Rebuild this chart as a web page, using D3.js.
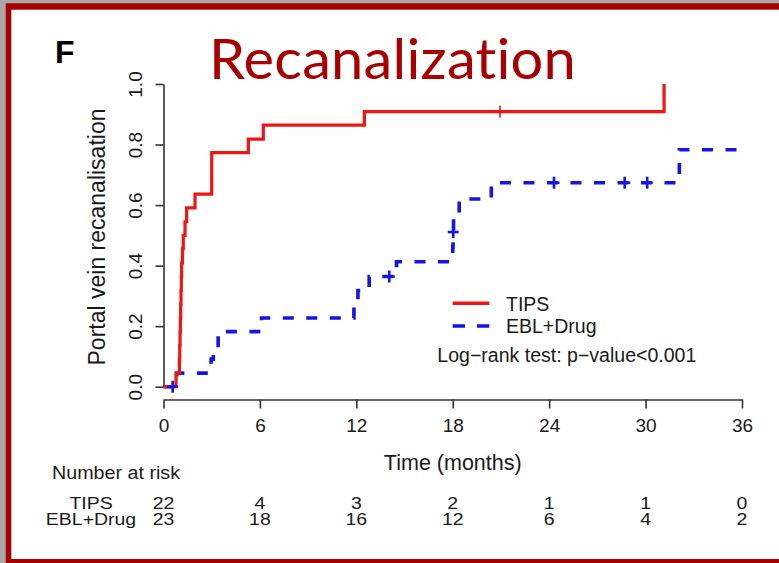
<!DOCTYPE html>
<html>
<head>
<meta charset="utf-8">
<script src="https://cdn.jsdelivr.net/npm/d3@7"></script>
<style>
  html, body { margin: 0; padding: 0; background: #a9a9a9; }
  svg { display: block; }
  text { font-family: "Liberation Sans", Arial, sans-serif; fill: #1a1a1a; font-variant-ligatures: none; }
</style>
</head>
<body>
<svg id="chart" width="779" height="563"></svg>
<script>
// Kaplan-Meier step points: time (months) and cumulative recanalisation
const tipsTimes  = [0, 0.78, 0.99, 1.01, 1.03, 1.05, 1.07, 1.09, 1.11, 1.13, 1.18, 1.23, 1.34, 1.44, 1.96, 3.00, 5.28, 6.21, 12.50, 31.15];
const tipsValues = [0, 0.045, 0.091, 0.136, 0.182, 0.227, 0.273, 0.318, 0.364, 0.409, 0.455, 0.500, 0.545, 0.591, 0.636, 0.773, 0.818, 0.864, 0.909, 1.000];
const tipsCensorTimes  = [20.94];
const tipsCensorValues = [0.909];

const eblTimes  = [0, 0.82, 2.96, 3.10, 3.40, 6.10, 11.85, 12.10, 12.80, 14.50, 18.00, 18.02, 18.05, 18.40, 20.40, 32.10, 36.0];
const eblValues = [0, 0.045, 0.091, 0.136, 0.182, 0.227, 0.273, 0.318, 0.364, 0.413, 0.462, 0.511, 0.565, 0.620, 0.674, 0.783, 0.783];
const eblCensorTimes  = [0.57, 14.05, 18.03, 24.3, 28.7, 30.1];
const eblCensorValues = [0, 0.364, 0.511, 0.674, 0.674, 0.674];

const xTicks = [0, 6, 12, 18, 24, 30, 36];
const yTicks = [0, 0.2, 0.4, 0.6, 0.8, 1.0];
const riskGroups = ["TIPS", "EBL+Drug"];
const riskTips = [22, 4, 3, 2, 1, 1, 0];
const riskEbl  = [23, 18, 16, 12, 6, 4, 2];

const svg = d3.select("#chart");
const W = 779, H = 563;

// slide frame: grey page, dark-red border, white panel
svg.append("rect").attr("x", 0).attr("y", 0).attr("width", W).attr("height", H).attr("fill", "#a9a9a9");
svg.append("rect").attr("x", 5.7).attr("y", 3.3).attr("width", W - 5.7).attr("height", H - 3.3).attr("fill", "#a80000");
svg.append("rect").attr("x", 11.3).attr("y", 9.7).attr("width", W - 11.3).attr("height", 559 - 9.7).attr("fill", "#ffffff");

// panel letter and title
svg.append("text").attr("x", 55).attr("y", 63).attr("font-size", 32).attr("font-weight", "bold")
  .style("fill", "#000").text("F");
svg.append("text").attr("x", 209).attr("y", 79)
  .attr("font-size", 57).attr("textLength", 367).attr("lengthAdjust", "spacingAndGlyphs")
  .style("font-family", "Lato, 'Open Sans', sans-serif").style("fill", "#a80000")
  .style("letter-spacing", "0.2px")
  .style("font-variant-ligatures", "none").style("font-feature-settings", "'liga' 0, 'clig' 0, 'dlig' 0")
  .text("Recanalization");

const x = d3.scaleLinear().domain([0, 36]).range([163.5, 742]);
const y = d3.scaleLinear().domain([0, 1]).range([386.7, 84]);

// axes
const axisColor = "#333";
const gy = svg.append("g").attr("transform", "translate(163.5,0)")
  .call(d3.axisLeft(y).tickValues(yTicks).tickFormat(d3.format(".1f")).tickSize(8).tickSizeOuter(0));
gy.select(".domain").attr("stroke", axisColor).attr("stroke-width", 1.6);
gy.selectAll(".tick line").attr("stroke", axisColor).attr("stroke-width", 1.6);
gy.selectAll(".tick text")
  .attr("font-size", 19).attr("fill", "#1a1a1a")
  .attr("x", 0).attr("dy", 0)
  .attr("transform", "translate(-21.5,0) rotate(-90)")
  .attr("text-anchor", "middle")
  .style("font-family", "'Liberation Sans', Arial, sans-serif");

const gx = svg.append("g").attr("transform", "translate(0,399.5)")
  .call(d3.axisBottom(x).tickValues(xTicks).tickSize(9).tickSizeOuter(0));
gx.select(".domain").attr("stroke", axisColor).attr("stroke-width", 1.6);
gx.selectAll(".tick line").attr("stroke", axisColor).attr("stroke-width", 1.6);
gx.selectAll(".tick text")
  .attr("font-size", 19).attr("fill", "#1a1a1a").attr("y", 0).attr("dy", 0)
  .attr("transform", "translate(0,32.5)")
  .style("font-family", "'Liberation Sans', Arial, sans-serif");

// axis titles
svg.append("text").attr("transform", "translate(105,237) rotate(-90)")
  .attr("text-anchor", "middle").attr("font-size", 23).text("Portal vein recanalisation");
svg.append("text").attr("x", x(18)).attr("y", 470)
  .attr("text-anchor", "middle").attr("font-size", 21.5).text("Time (months)");

// survival curves
const step = d3.line().x(d => x(d[0])).y(d => y(d[1])).curve(d3.curveStepAfter);
const tipsPts = tipsTimes.map((t, i) => [t, tipsValues[i]]);
const eblPts = eblTimes.map((t, i) => [t, eblValues[i]]);

const red = "#f01414", blue = "#1414e6";
svg.append("path").datum(eblPts).attr("d", step)
  .attr("fill", "none").attr("stroke", blue).attr("stroke-width", 3.6)
  .attr("stroke-dasharray", "11,12.5");
svg.append("path").datum(tipsPts).attr("d", step)
  .attr("fill", "none").attr("stroke", red).attr("stroke-width", 3.2);

// censoring marks
tipsCensorTimes.forEach((t, i) => {
  svg.append("line").attr("x1", x(t)).attr("x2", x(t))
    .attr("y1", y(tipsCensorValues[i]) - 6).attr("y2", y(tipsCensorValues[i]) + 6)
    .attr("stroke", red).attr("stroke-width", 1.6);
});
eblCensorTimes.forEach((t, i) => {
  const cx = x(t), cy = y(eblCensorValues[i]);
  svg.append("line").attr("x1", cx - 5.5).attr("x2", cx + 5.5).attr("y1", cy).attr("y2", cy)
    .attr("stroke", blue).attr("stroke-width", 2.6);
  svg.append("line").attr("x1", cx).attr("x2", cx).attr("y1", cy - 6).attr("y2", cy + 6)
    .attr("stroke", blue).attr("stroke-width", 2.6);
});

// legend
const lg = svg.append("g");
lg.append("line").attr("x1", 452.7).attr("x2", 489.3).attr("y1", 303.3).attr("y2", 303.3)
  .attr("stroke", red).attr("stroke-width", 3.4);
lg.append("line").attr("x1", 452.7).attr("x2", 489.3).attr("y1", 326).attr("y2", 326)
  .attr("stroke", blue).attr("stroke-width", 3.6).attr("stroke-dasharray", "12.3,12");
lg.append("text").attr("x", 506).attr("y", 310.5).attr("font-size", 19.5).text(riskGroups[0]);
lg.append("text").attr("x", 506).attr("y", 333).attr("font-size", 19.5).text(riskGroups[1]);
lg.append("text").attr("x", 437.3).attr("y", 361.7).attr("font-size", 19.5)
  .attr("textLength", 259).attr("lengthAdjust", "spacingAndGlyphs")
  .text("Log\u2212rank test: p\u2212value<0.001");

// number-at-risk table (text drawn slightly wide, as in the plotting device)
svg.append("text").attr("x", 52).attr("y", 478.5).attr("font-size", 18)
  .attr("textLength", 128).attr("lengthAdjust", "spacingAndGlyphs").text("Number at risk");
[[riskTips, 508.5], [riskEbl, 525]].forEach(([row, yy], r) => {
  svg.append("text").attr("transform", `translate(91,${yy}) scale(1.18,1)`)
    .attr("text-anchor", "middle").attr("font-size", 16.5).text(riskGroups[r]);
  svg.selectAll(null).data(row).enter().append("text")
    .attr("transform", (d, i) => `translate(${x(xTicks[i])},${yy}) scale(1.18,1)`)
    .attr("text-anchor", "middle").attr("font-size", 16.5).text(d => d);
});
</script>
</body>
</html>
